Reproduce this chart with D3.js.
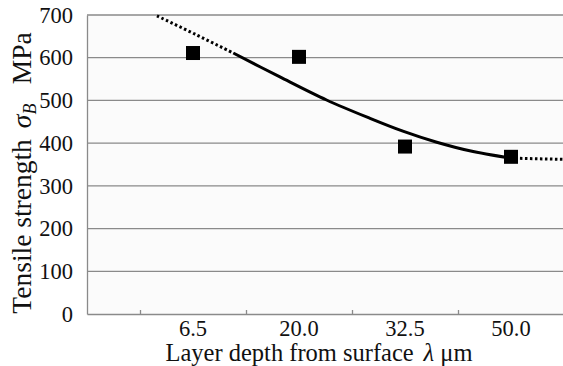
<!DOCTYPE html>
<html>
<head>
<meta charset="utf-8">
<script src="https://cdn.jsdelivr.net/npm/d3@7"></script>
<style>
  body { margin: 0; background: #fff; }
</style>
</head>
<body>
<svg width="563" height="366"></svg>
<script>
// categories on the x axis
var depths = ['6.5', '20.0', '32.5', '50.0'];
// measured tensile strength (MPa)
var strength = [611, 602, 392, 368];
var yTicks = [0, 100, 200, 300, 400, 500, 600, 700];

// fitted trend, x in category index units
var fitSolid = [[0.38, 611], [0.82, 555], [1.26, 501], [1.67, 458], [1.98, 428], [2.30, 402], [2.61, 382], [2.99, 365]];
var fitDotLeft = [[-0.34, 698], [0.02, 655], [0.38, 611]];
var fitDotRight = [[2.99, 365], [3.49, 362]];

var svg = d3.select('svg');
var serif = 'Liberation Serif';

var x = d3.scaleLinear().domain([-1, 3.5]).range([87, 564]);
var y = d3.scaleLinear().domain([0, 700]).range([314, 15]);

// plot background
svg.append('rect')
  .attr('x', x(-1)).attr('y', y(700))
  .attr('width', x(3.5) - x(-1)).attr('height', y(0) - y(700))
  .attr('fill', '#fbfbfb');

// grid lines
svg.append('g').selectAll('line')
  .data(yTicks.slice(1))
  .enter().append('line')
    .attr('x1', x(-1)).attr('x2', x(3.5))
    .attr('y1', function(d){ return y(d); })
    .attr('y2', function(d){ return y(d); })
    .attr('stroke', '#8a8a8a')
    .attr('stroke-width', 1.3);

// y axis
var yAxis = svg.append('g')
  .attr('transform', 'translate(' + x(-1) + ',0)')
  .call(d3.axisLeft(y).tickValues(yTicks).tickSize(0).tickPadding(14));
yAxis.attr('font-family', serif).attr('font-size', 22.5);
yAxis.select('.domain').attr('stroke', '#8a8a8a').attr('stroke-width', 1.3);
yAxis.selectAll('text').attr('fill', '#111');

// x axis: boundaries between categories
var xAxis = svg.append('g')
  .attr('transform', 'translate(0,' + y(0) + ')')
  .call(d3.axisBottom(x).tickValues([-0.5, 0.5, 1.5, 2.5]).tickSizeInner(-4).tickSizeOuter(0).tickFormat(''));
xAxis.select('.domain').attr('stroke', '#8a8a8a').attr('stroke-width', 1.3);
xAxis.selectAll('.tick line').attr('stroke', '#8a8a8a').attr('stroke-width', 1.3);

svg.append('g')
  .attr('font-family', serif)
  .attr('font-size', 22.5)
  .selectAll('text')
  .data(depths)
  .enter().append('text')
    .attr('x', function(d, i){ return x(i); })
    .attr('y', 336)
    .attr('text-anchor', 'middle')
    .attr('fill', '#111')
    .text(function(d){ return d; });

// trend line
var line = d3.line()
  .x(function(d){ return x(d[0]); })
  .y(function(d){ return y(d[1]); })
  .curve(d3.curveCatmullRom);

svg.append('path').datum(fitSolid)
  .attr('d', line).attr('fill', 'none')
  .attr('stroke', '#000').attr('stroke-width', 3);

svg.selectAll('path.dot')
  .data([fitDotLeft, fitDotRight])
  .enter().append('path')
    .attr('class', 'dot')
    .attr('d', line).attr('fill', 'none')
    .attr('stroke', '#000').attr('stroke-width', 3)
    .attr('stroke-dasharray', '2.5,2.5');

// markers
var s = 14;
svg.append('g').selectAll('rect.mk')
  .data(strength)
  .enter().append('rect')
    .attr('class', 'mk')
    .attr('x', function(d, i){ return x(i) - s / 2; })
    .attr('y', function(d){ return y(d) - s / 2; })
    .attr('width', s).attr('height', s)
    .attr('fill', '#000');

// axis titles
var xt = svg.append('text')
  .attr('x', 319).attr('y', 361)
  .attr('text-anchor', 'middle')
  .attr('font-family', serif)
  .attr('font-size', 24.5)
  .attr('fill', '#111');
xt.append('tspan').text('Layer depth from surface\u2009\u2009');
xt.append('tspan').attr('font-style', 'italic').text('\u03bb');
xt.append('tspan').text(' \u03bcm');

var yt = svg.append('text')
  .attr('transform', 'translate(31,173) rotate(-90)')
  .attr('text-anchor', 'middle')
  .attr('font-family', serif)
  .attr('font-size', 27.5)
  .attr('fill', '#111');
yt.append('tspan').text('Tensile strength\u2009\u2009');
yt.append('tspan').attr('font-style', 'italic').text('\u03c3');
yt.append('tspan').attr('font-style', 'italic').attr('font-size', 18).attr('dy', 5).text('B');
yt.append('tspan').attr('dy', -5).text('\u2002\u2009MPa');
</script>
</body>
</html>
